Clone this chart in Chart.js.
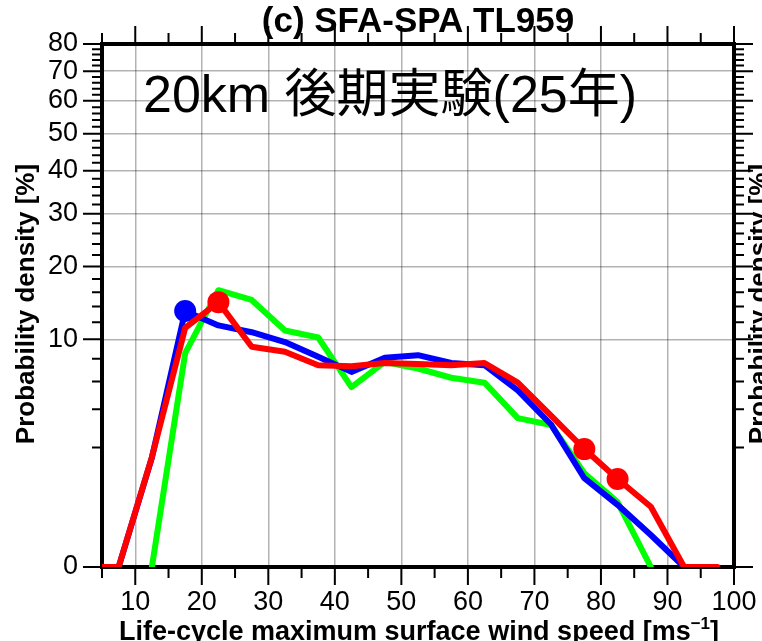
<!DOCTYPE html>
<html>
<head>
<meta charset="utf-8">
<script src="https://cdn.jsdelivr.net/npm/chart.js@4.4.1/dist/chart.umd.min.js"></script>
<style>
  html, body { margin: 0; padding: 0; background: #fff; }
  canvas { display: block; }
</style>
</head>
<body>
<canvas id="myChart" width="762" height="641"></canvas>
<script>
// bin centres of the wind speed classes [m/s]
var windSpeed = [2.5, 7.5, 12.5, 17.5, 22.5, 27.5, 32.5, 37.5, 42.5, 47.5,
                 52.5, 57.5, 62.5, 67.5, 72.5, 77.5, 82.5, 87.5, 92.5, 97.5];
// probability density [%] per class
var redSeries   = [0, 0, 1.62, 11.3, 14.6, 9.2, 8.7, 7.4, 7.3, 7.6,
                   7.5, 7.4, 7.6, 5.9, 3.6, 1.93, 0.93, 0.36, 0, 0];
var blueSeries  = [0, 0, 1.6, 13.4, 11.6, 10.8, 9.7, 8.2, 6.8, 8.1,
                   8.35, 7.6, 7.4, 5.3, 3.1, 0.95, 0.39, 0.074, 0, null];
var greenSeries = [null, null, 0, 8.55, 16.3, 14.9, 11.0, 10.2, 5.55, 7.7,
                   7.1, 6.3, 5.9, 3.46, 3.07, 1.09, 0.435, 0, null, null];
// classes marked with a dot
var redMarks  = [22.5, 77.5, 82.5];
var blueMarks = [17.5];

var yTicks = [0, 10, 20, 30, 40, 50, 60, 70, 80];
var xTicks = [10, 20, 30, 40, 50, 60, 70, 80, 90, 100];

var EXP = 0.4;
function pw(v) { return Math.pow(Math.max(v, 0), EXP); }

class PowerScale extends Chart.LinearScale {
    getPixelForValue(value) {
        if (value === null || isNaN(value)) return NaN;
        return this.getPixelForDecimal((pw(value) - pw(this.min)) / (pw(this.max) - pw(this.min)));
    }
    getValueForPixel(pixel) {
        var d = this.getDecimalForPixel(pixel);
        var a = pw(this.min), b = pw(this.max);
        return Math.pow(a + d * (b - a), 1 / EXP);
    }
}
PowerScale.id = 'power';
PowerScale.defaults = Chart.LinearScale.defaults;
Chart.register(PowerScale);

function toPoints(arr) {
    return windSpeed.map(function (x, i) { return { x: x, y: arr[i] }; });
}
function markRadius(marks) {
    return function (ctx) {
        var x = windSpeed[ctx.dataIndex];
        return marks.indexOf(x) >= 0 ? 11 : 0;
    };
}

var FONT = '"Liberation Sans", Arial, Helvetica, sans-serif';

var frame = {
    id: 'frame',
    beforeDatasetsDraw: function (chart) {
        var c = chart.ctx, a = chart.chartArea;
        var xs = chart.scales.x, ys = chart.scales.y;
        c.save();
        c.strokeStyle = '#000';
        // minor / major ticks
        c.lineWidth = 2;
        c.beginPath();
        for (var v = 0; v <= 80; v += 2) {
            var py = ys.getPixelForValue(v);
            var len = v % 10 === 0 ? 19 : 10;
            c.moveTo(a.left - len, py); c.lineTo(a.left, py);
            c.moveTo(a.right, py); c.lineTo(a.right + len, py);
        }
        for (var w = 5; w <= 100; w += 5) {
            var px = xs.getPixelForValue(w);
            var l2 = w % 10 === 0 ? 18 : 11;
            c.moveTo(px, a.top - l2); c.lineTo(px, a.top);
            c.moveTo(px, a.bottom); c.lineTo(px, a.bottom + l2);
        }
        c.stroke();
        c.lineWidth = 4;
        c.strokeRect(a.left, a.top, a.right - a.left, a.bottom - a.top);
        c.restore();
    },
    afterDraw: function (chart) {
        var c = chart.ctx;
        c.save();
        c.fillStyle = '#000';
        // title
        c.font = 'bold 35px ' + FONT;
        c.textAlign = 'center';
        c.textBaseline = 'alphabetic';
        c.fillText('(c) SFA-SPA TL959', 418, 32);
        // annotation
        c.font = '52px "Liberation Sans", "Noto Sans CJK JP", sans-serif';
        c.textAlign = 'left';
        c.fillText('20km 後期実験(25年)', 143, 112);
        // y titles
        c.font = 'bold 26px ' + FONT;
        c.textAlign = 'center';
        [34, 767].forEach(function (bx) {
            c.save();
            c.translate(bx, 304);
            c.rotate(-Math.PI / 2);
            c.fillText('Probability density [%]', 0, 0);
            c.restore();
        });
        // x title with superscript
        var main = 'Life-cycle maximum surface wind speed [ms';
        var sup = '\u22121';
        var tail = ']';
        c.font = 'bold 27px ' + FONT;
        var w1 = c.measureText(main).width, w3 = c.measureText(tail).width;
        c.font = 'bold 17px ' + FONT;
        var w2 = c.measureText(sup).width;
        var x0 = 419 - (w1 + w2 + w3) / 2, base = 640;
        c.textAlign = 'left';
        c.font = 'bold 27px ' + FONT;
        c.fillText(main, x0, base);
        c.font = 'bold 17px ' + FONT;
        c.fillText(sup, x0 + w1, base - 11);
        c.font = 'bold 27px ' + FONT;
        c.fillText(tail, x0 + w1 + w2, base);
        c.restore();
    }
};

var ctx = document.getElementById('myChart').getContext('2d');
var myChart = new Chart(ctx, {
    type: 'line',
    data: {
        datasets: [{
            label: 'red',
            data: toPoints(redSeries),
            borderColor: '#ff0000',
            backgroundColor: '#ff0000',
            borderWidth: 6,
            pointRadius: markRadius(redMarks),
            pointBorderWidth: 0,
            order: 1
        }, {
            label: 'blue',
            data: toPoints(blueSeries),
            borderColor: '#0000ff',
            backgroundColor: '#0000ff',
            borderWidth: 6,
            pointRadius: markRadius(blueMarks),
            pointBorderWidth: 0,
            order: 2
        }, {
            label: 'green',
            data: toPoints(greenSeries),
            borderColor: '#00ff00',
            backgroundColor: '#00ff00',
            borderWidth: 6,
            pointRadius: 0,
            order: 3
        }]
    },
    options: {
        responsive: false,
        animation: false,
        devicePixelRatio: 1,
        layout: { padding: { top: 44, left: 0, right: 0, bottom: 0 } },
        plugins: { legend: { display: false }, tooltip: { enabled: false } },
        elements: { line: { tension: 0, borderJoinStyle: 'round', borderCapStyle: 'round' } },
        scales: {
            x: {
                type: 'linear',
                min: 5, max: 100,
                afterFit: function (s) { s.height = 74; s.paddingLeft = 0; s.paddingRight = 0; },
                afterBuildTicks: function (s) {
                    var t = [];
                    for (var v = 5; v <= 100; v += 5) t.push({ value: v });
                    s.ticks = t;
                },
                border: { display: false },
                grid: {
                    drawTicks: false,
                    lineWidth: 1.5,
                    color: function (c) {
                        return c.tick && xTicks.indexOf(c.tick.value) >= 0 && c.tick.value < 100 ? 'rgba(0,0,0,0.3)' : 'rgba(0,0,0,0)';
                    }
                },
                ticks: {
                    autoSkip: false, maxRotation: 0, padding: 19,
                    color: '#000',
                    font: { family: FONT, size: 27 },
                    callback: function (v) { return xTicks.indexOf(v) >= 0 ? String(v) : ''; }
                }
            },
            y: {
                type: 'power',
                position: 'left',
                min: 0, max: 80,
                afterFit: function (s) { s.width = 102; s.paddingTop = 0; s.paddingBottom = 0; },
                afterBuildTicks: function (s) {
                    s.ticks = yTicks.map(function (v) { return { value: v }; });
                },
                border: { display: false },
                grid: {
                    drawTicks: false,
                    lineWidth: 1.5,
                    color: 'rgba(0,0,0,0.3)'
                },
                ticks: {
                    padding: 24,
                    color: '#000',
                    font: { family: FONT, size: 27 }
                }
            },
            yR: {
                type: 'power',
                position: 'right',
                min: 0, max: 80,
                afterFit: function (s) { s.width = 28; },
                border: { display: false },
                grid: { display: false, drawOnChartArea: false },
                ticks: { display: false }
            }
        }
    },
    plugins: [frame]
});
</script>
</body>
</html>
